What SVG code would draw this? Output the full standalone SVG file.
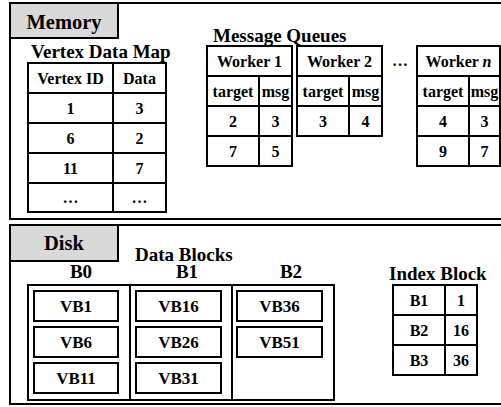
<svg xmlns="http://www.w3.org/2000/svg" width="501" height="407" viewBox="0 0 501 407" font-family="'Liberation Serif', 'Times New Roman', 'DejaVu Serif', serif">
<style>
text{font-family:'Liberation Serif','Times New Roman','DejaVu Serif',serif;font-weight:bold;fill:#000}
.t{font-size:19px}
.tab{font-size:20.5px;text-anchor:middle}
.c{font-size:16px;text-anchor:middle}
.vb{font-size:17px;text-anchor:middle}
.frame{fill:none;stroke:#000;stroke-width:2}
.tabr{fill:#d9d9d9;stroke:#000;stroke-width:2}
.cell{fill:#fff;stroke:#000;stroke-width:2}
.ln{stroke:#000;stroke-width:2;fill:none}
</style>
<rect width="501" height="407" fill="#fff"/>
<g id="memory">
<rect class="frame" x="10" y="3" width="495" height="216"/>
<rect class="tabr" x="10" y="3" width="108" height="35"/>
<text class="tab" x="64" y="29">Memory</text>
</g>
<g id="vertex-data-map">
<text class="t" x="31" y="58">Vertex Data Map</text>
<rect class="cell" x="28" y="63" width="138" height="149"/>
<path class="ln" d="M113 63V212M28 93H166M28 123H166M28 153H166M28 183H166"/>
<text class="c" x="70.5" y="84">Vertex ID</text><text class="c" x="139.5" y="84">Data</text>
<text class="c" x="70.5" y="114">1</text><text class="c" x="139.5" y="114">3</text>
<text class="c" x="70.5" y="144">6</text><text class="c" x="139.5" y="144">2</text>
<text class="c" x="70.5" y="174">11</text><text class="c" x="139.5" y="174">7</text>
<text class="c" x="70.5" y="203">…</text><text class="c" x="139.5" y="203">…</text>
</g>
<g id="message-queues">
<text class="t" x="213" y="42">Message Queues</text>
<text class="c" x="400" y="66">…</text>
</g>
<g id="worker-1">
<rect class="cell" x="207" y="46" width="85" height="120"/>
<path class="ln" d="M259 76V166M207 76H292M207 106H292M207 136H292"/>
<text class="c" x="249.5" y="67">Worker 1</text>
<text class="c" x="233" y="97">target</text><text class="c" x="275.5" y="97">msg</text>
<text class="c" x="233" y="127">2</text><text class="c" x="275.5" y="127">3</text>
<text class="c" x="233" y="157">7</text><text class="c" x="275.5" y="157">5</text>
</g>
<g id="worker-2">
<rect class="cell" x="297" y="46" width="85" height="90"/>
<path class="ln" d="M349 76V136M297 76H382M297 106H382"/>
<text class="c" x="339.5" y="67">Worker 2</text>
<text class="c" x="323" y="97">target</text><text class="c" x="365.5" y="97">msg</text>
<text class="c" x="323" y="127">3</text><text class="c" x="365.5" y="127">4</text>
</g>
<g id="worker-n">
<rect class="cell" x="417" y="46" width="83" height="120"/>
<path class="ln" d="M469 76V166M417 76H500M417 106H500M417 136H500"/>
<text class="c" x="458.5" y="67">Worker <tspan font-style="italic">n</tspan></text>
<text class="c" x="443" y="97">target</text><text class="c" x="484.5" y="97">msg</text>
<text class="c" x="443" y="127">4</text><text class="c" x="484.5" y="127">3</text>
<text class="c" x="443" y="157">9</text><text class="c" x="484.5" y="157">7</text>
</g>
<g id="disk">
<rect class="frame" x="10" y="225" width="495" height="179"/>
<rect class="tabr" x="10" y="225" width="108" height="36"/>
<text class="tab" x="64" y="250">Disk</text>
</g>
<g id="data-blocks">
<text class="t" x="135" y="261">Data Blocks</text>
<text class="t" x="81" y="278" text-anchor="middle">B0</text>
<text class="t" x="187" y="278" text-anchor="middle">B1</text>
<text class="t" x="291" y="278" text-anchor="middle">B2</text>
<rect class="cell" x="28" y="285" width="306" height="115"/>
<path class="ln" d="M130 285V400M232 285V400"/>
</g>
<g id="block-b0">
<rect class="cell" x="34" y="291" width="84" height="30"/><text class="vb" x="76" y="312">VB1</text>
<rect class="cell" x="34" y="327" width="84" height="30"/><text class="vb" x="76" y="348">VB6</text>
<rect class="cell" x="34" y="363" width="84" height="30"/><text class="vb" x="76" y="384">VB11</text>
</g>
<g id="block-b1">
<rect class="cell" x="136" y="291" width="85" height="30"/><text class="vb" x="178.5" y="312">VB16</text>
<rect class="cell" x="136" y="327" width="85" height="30"/><text class="vb" x="178.5" y="348">VB26</text>
<rect class="cell" x="136" y="363" width="85" height="30"/><text class="vb" x="178.5" y="384">VB31</text>
</g>
<g id="block-b2">
<rect class="cell" x="237" y="291" width="85" height="30"/><text class="vb" x="279.5" y="312">VB36</text>
<rect class="cell" x="237" y="327" width="85" height="30"/><text class="vb" x="279.5" y="348">VB51</text>
</g>
<g id="index-block">
<text class="t" x="389" y="280">Index Block</text>
<rect class="cell" x="393" y="285" width="84" height="90"/>
<path class="ln" d="M445 285V375M393 315H477M393 345H477"/>
<text class="c" x="419" y="306">B1</text><text class="c" x="461" y="306">1</text>
<text class="c" x="419" y="336">B2</text><text class="c" x="461" y="336">16</text>
<text class="c" x="419" y="366">B3</text><text class="c" x="461" y="366">36</text>
</g>
<g id="connectors"></g>
</svg>
